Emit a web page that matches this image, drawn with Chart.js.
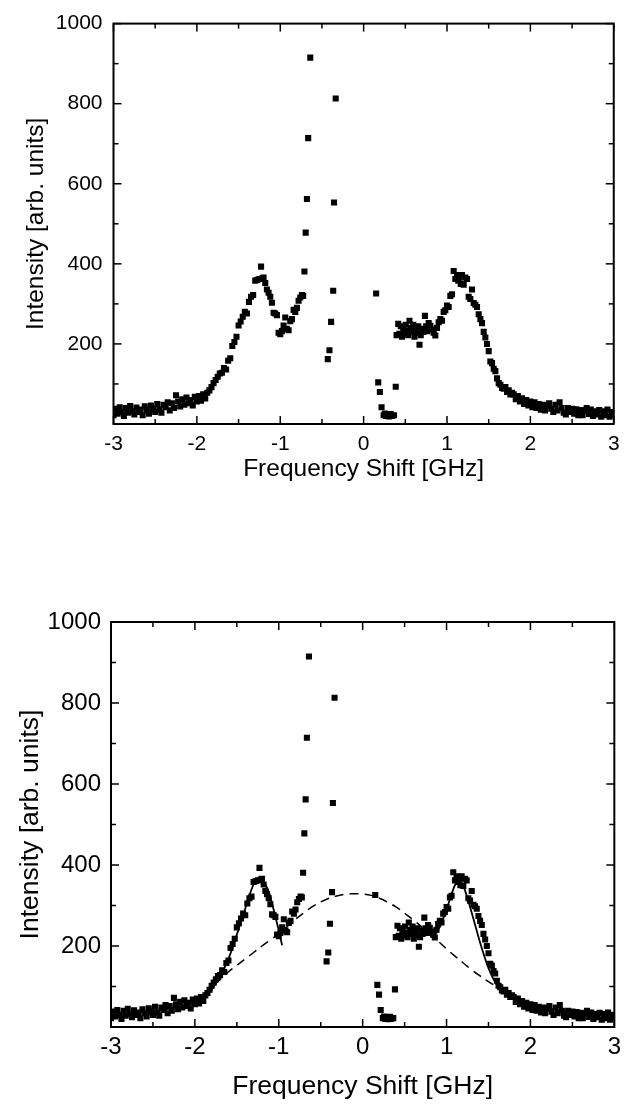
<!DOCTYPE html>
<html>
<head>
<meta charset="utf-8">
<script src="https://cdn.jsdelivr.net/npm/chart.js@4.4.1/dist/chart.umd.min.js"></script>
<style>
  html, body { margin: 0; padding: 0; background: #fff; }
  body { width: 627px; height: 1108px; position: relative; overflow: hidden; }
  canvas { position: absolute; left: 0; }
  #chartTop { top: 0; }
  #chartBottom { top: 540px; }
</style>
</head>
<body>
<canvas id="chartTop" width="627" height="484"></canvas>
<canvas id="chartBottom" width="627" height="568"></canvas>
<script>
// measured spectrum (same data in both panels)
const freq = [
  -3.000, -2.975, -2.950, -2.925, -2.900, -2.875, -2.850, -2.825, -2.800, -2.775,
  -2.750, -2.725, -2.700, -2.675, -2.650, -2.625, -2.600, -2.575, -2.550, -2.525,
  -2.500, -2.475, -2.450, -2.425, -2.400, -2.375, -2.350, -2.325, -2.300, -2.275,
  -2.250, -2.225, -2.200, -2.175, -2.150, -2.125, -2.100, -2.075, -2.050, -2.025,
  -2.000, -1.975, -1.950, -1.925, -1.900, -1.875, -1.850, -1.825, -1.800, -1.775,
  -1.750, -1.725, -1.700, -1.675, -1.650, -1.625, -1.600, -1.575, -1.550, -1.525,
  -1.500, -1.475, -1.450, -1.425, -1.400, -1.375, -1.350, -1.325, -1.300, -1.275,
  -1.250, -1.230, -1.215, -1.200, -1.180, -1.160, -1.140, -1.120, -1.100, -1.080,
  -1.060, -1.040, -1.020, -1.000, -0.980, -0.960, -0.940, -0.920, -0.900, -0.880,
  -0.860, -0.840, -0.820, -0.800, -0.780, -0.760, -0.740, -0.725, -0.710, -0.695,
  -0.680, -0.665, -0.640,
  -0.430, -0.410, -0.390, -0.365, -0.355, -0.335,
  0.150, 0.175, 0.195, 0.215, 0.240, 0.255, 0.270, 0.290, 0.305, 0.325,
  0.340, 0.365, 0.385, 0.395, 0.415, 0.430, 0.445, 0.460, 0.475, 0.490,
  0.505, 0.520, 0.535, 0.550, 0.565, 0.580, 0.595, 0.610, 0.625, 0.640,
  0.655, 0.670, 0.685, 0.700, 0.715, 0.735, 0.750, 0.765, 0.780, 0.800,
  0.820, 0.840, 0.860, 0.880, 0.900, 0.920, 0.940, 0.960, 0.980, 1.000,
  1.020, 1.040, 1.060, 1.080, 1.100, 1.120, 1.135, 1.150, 1.165, 1.180,
  1.200, 1.220, 1.240, 1.260, 1.280, 1.300, 1.320, 1.340, 1.360, 1.380,
  1.400, 1.420, 1.440, 1.460, 1.480, 1.500, 1.520, 1.540, 1.560, 1.580,
  1.600, 1.620, 1.640, 1.660, 1.680, 1.700, 1.720, 1.740, 1.760, 1.780,
  1.800, 1.825, 1.850, 1.875, 1.900, 1.925, 1.950, 1.975, 2.000, 2.025,
  2.050, 2.075, 2.100, 2.125, 2.150, 2.175, 2.200, 2.225, 2.250, 2.275,
  2.300, 2.325, 2.350, 2.375, 2.400, 2.425, 2.450, 2.475, 2.500, 2.525,
  2.550, 2.575, 2.600, 2.625, 2.650, 2.675, 2.700, 2.725, 2.750, 2.775,
  2.800, 2.825, 2.850, 2.875, 2.900, 2.925, 2.950, 2.975, 3.000
];
const intensity = [
  22, 38, 26, 42, 30, 20, 40, 28, 45, 32,
  24, 41, 30, 36, 22, 44, 34, 26, 46, 38,
  30, 50, 36, 28, 48, 42, 54, 34, 52, 40,
  72, 56, 44, 62, 48, 66, 52, 60, 46, 68,
  56, 70, 58, 74, 64, 78, 84, 92, 102, 110,
  118, 126, 128, 140, 136, 158, 164, 195, 205, 218,
  246, 256, 268, 280, 276, 305, 318, 322, 358, 360,
  362, 393, 364, 366, 352, 336, 328, 318, 303, 278,
  276, 272, 228, 224, 232, 246, 266, 238, 234, 257,
  262, 285, 280, 290, 308, 316, 322, 320, 381, 478,
  562, 714, 915,
  162, 184, 255, 333, 553, 813,
  326, 104, 80, 42, 22, 26, 20, 24, 19, 25,
  20, 22, 93, 222, 250, 225, 244, 218, 238, 226,
  248, 232, 222, 258, 240, 230, 248, 218, 236, 228,
  244, 198, 222, 238, 230, 270, 244, 232, 252, 245,
  236, 228, 221, 240, 254, 262, 258, 280, 284, 296,
  292, 320, 324, 382, 362, 372, 358, 366, 350, 372,
  348, 366, 362, 318, 312, 336, 302, 298, 292, 274,
  262, 252, 230, 216, 200, 182, 156, 152, 138, 132,
  114, 102, 98, 90, 88, 92, 80, 84, 74, 78,
  74, 62, 70, 56, 64, 50, 60, 46, 56, 42,
  54, 40, 50, 36, 48, 34, 46, 52, 38, 30,
  48, 34, 54, 40, 28, 24, 40, 30, 38, 26,
  37, 22, 35, 22, 34, 40, 25, 36, 20, 32,
  24, 35, 18, 32, 22, 36, 18, 30, 24
];

// broad background (dashed) in lower panel
const bgFreq = [-1.9, -1.8, -1.7, -1.6, -1.5, -1.4, -1.3, -1.2, -1.1, -1.0, -0.9, -0.8, -0.7, -0.6, -0.5, -0.4, -0.3, -0.2, -0.1, 0.0,
  0.1, 0.2, 0.3, 0.4, 0.5, 0.6, 0.7, 0.8, 0.9, 1.0, 1.1, 1.2, 1.3, 1.4, 1.5, 1.6, 1.7];
const bgFit = [80, 98, 117, 136, 152, 168, 184, 200, 215, 230, 248, 266, 282, 297, 309, 318, 324, 328, 329, 328,
  325, 318, 308, 296, 281, 265, 248, 230, 212, 193, 175, 158, 141, 126, 112, 99, 87];

// total fit (solid), left and right branches
const fitLeftFreq = [-3.0, -2.8, -2.6, -2.4, -2.2, -2.0, -1.9, -1.8, -1.7, -1.6, -1.5, -1.4, -1.35, -1.3, -1.25, -1.22, -1.18, -1.12, -1.04, -0.96];
const fitLeft = [28, 32, 36, 42, 50, 60, 70, 92, 125, 168, 228, 292, 325, 352, 366, 369, 358, 334, 272, 202];
const fitRightFreq = [0.8, 0.85, 0.9, 0.95, 1.0, 1.05, 1.1, 1.15, 1.2, 1.25, 1.3, 1.35, 1.4, 1.45, 1.5, 1.55, 1.6, 1.65, 1.7, 1.8, 1.9, 2.0, 2.2, 2.4, 2.6, 2.8, 3.0];
const fitRight = [230, 226, 240, 262, 290, 322, 350, 360, 348, 318, 282, 245, 208, 175, 145, 122, 104, 92, 84, 72, 62, 55, 46, 40, 35, 31, 28];

const xMajorTicks = [-3, -2, -1, 0, 1, 2, 3];
const xMinorTicks = [-2.5, -1.5, -0.5, 0.5, 1.5, 2.5];
const yMajorTicks = [200, 400, 600, 800, 1000];
const yMinorTicks = [100, 300, 500, 700, 900];

const FONT = '"Liberation Sans", Arial, Helvetica, sans-serif';

function pairs(xs, ys) {
    return xs.map((x, i) => ({x: x, y: ys[i]}));
}

// box frame with inward ticks on all four sides
const frameTicks = {
    id: 'frameTicks',
    afterDatasetsDraw(chart) {
        const {ctx, chartArea: a, scales: {x, y}} = chart;
        const seg = (x1, y1, x2, y2) => { ctx.beginPath(); ctx.moveTo(x1, y1); ctx.lineTo(x2, y2); ctx.stroke(); };
        ctx.save();
        ctx.strokeStyle = '#000';
        ctx.lineWidth = 1.5;
        xMajorTicks.forEach(v => { const p = x.getPixelForValue(v); seg(p, a.bottom, p, a.bottom - 8); seg(p, a.top, p, a.top + 8); });
        xMinorTicks.forEach(v => { const p = x.getPixelForValue(v); seg(p, a.bottom, p, a.bottom - 5); seg(p, a.top, p, a.top + 5); });
        yMajorTicks.forEach(v => { const p = y.getPixelForValue(v); seg(a.left, p, a.left + 8, p); seg(a.right, p, a.right - 8, p); });
        yMinorTicks.forEach(v => { const p = y.getPixelForValue(v); seg(a.left, p, a.left + 5, p); seg(a.right, p, a.right - 5, p); });
        ctx.lineWidth = 2;
        ctx.strokeRect(a.left, a.top, a.right - a.left, a.bottom - a.top);
        ctx.restore();
    }
};

function createChart(canvasId, cfg) {
    const datasets = [{
        type: 'scatter',
        data: pairs(freq, intensity),
        pointStyle: 'rect',
        pointRadius: 4.3,
        backgroundColor: '#000',
        borderWidth: 0,
        order: 1
    }];
    if (cfg.fits) {
        datasets.push({
            type: 'line', data: pairs(bgFreq, bgFit), borderColor: '#000', borderWidth: 1.5,
            borderDash: [9, 6], pointRadius: 0, tension: 0.4, fill: false, order: 0
        });
        datasets.push({
            type: 'line', data: pairs(fitLeftFreq, fitLeft), borderColor: '#000', borderWidth: 1.8,
            pointRadius: 0, cubicInterpolationMode: 'monotone', fill: false, order: 0
        });
        datasets.push({
            type: 'line', data: pairs(fitRightFreq, fitRight), borderColor: '#000', borderWidth: 1.8,
            pointRadius: 0, cubicInterpolationMode: 'monotone', fill: false, order: 0
        });
    }

    return new Chart(document.getElementById(canvasId).getContext('2d'), {
        type: 'scatter',
        data: {datasets: datasets},
        options: {
            responsive: false,
            animation: false,
            events: [],
            layout: {padding: {left: 0, right: cfg.padRight, top: cfg.padTop, bottom: 0}},
            plugins: {legend: {display: false}, tooltip: {enabled: false}},
            scales: {
                x: {
                    type: 'linear',
                    min: -3,
                    max: 3,
                    afterBuildTicks: s => { s.ticks = xMajorTicks.map(v => ({value: v})); },
                    afterFit: s => { s.height = cfg.xHeight; },
                    grid: {display: false, drawTicks: false},
                    border: {display: false},
                    ticks: {
                        color: '#000', padding: cfg.xTickPad, maxRotation: 0, autoSkip: false,
                        font: {family: FONT, size: cfg.tickSize},
                        callback: v => String(v)
                    },
                    title: {
                        display: true, text: 'Frequency Shift [GHz]', color: '#000',
                        font: {family: FONT, size: cfg.titleSize}, padding: {top: 0, bottom: cfg.xTitlePad}
                    }
                },
                y: {
                    type: 'linear',
                    min: 0,
                    max: 1000,
                    afterBuildTicks: s => { s.ticks = yMajorTicks.map(v => ({value: v})); },
                    afterFit: s => { s.width = cfg.yWidth; },
                    grid: {display: false, drawTicks: false},
                    border: {display: false},
                    ticks: {
                        color: '#000', padding: cfg.yTickPad,
                        font: {family: FONT, size: cfg.tickSize},
                        callback: v => String(v)
                    },
                    title: {
                        display: true, text: 'Intensity [arb. units]', color: '#000',
                        font: {family: FONT, size: cfg.titleSize}, padding: {top: cfg.yTitlePad, bottom: 0}
                    }
                }
            }
        },
        plugins: [frameTicks]
    });
}

const chartTop = createChart('chartTop', {
    fits: false, padTop: 21, padRight: 7.5, xHeight: 60, yWidth: 113.5,
    tickSize: 21, titleSize: 24.5, xTickPad: 7.4, yTickPad: 11, xTitlePad: 0, yTitlePad: 22
});
const chartBottom = createChart('chartBottom', {
    fits: true, padTop: 82, padRight: 8.5, xHeight: 81, yWidth: 111,
    tickSize: 24, titleSize: 26.5, xTickPad: 6, yTickPad: 10, xTitlePad: 5.5, yTitlePad: 15
});
</script>
</body>
</html>
